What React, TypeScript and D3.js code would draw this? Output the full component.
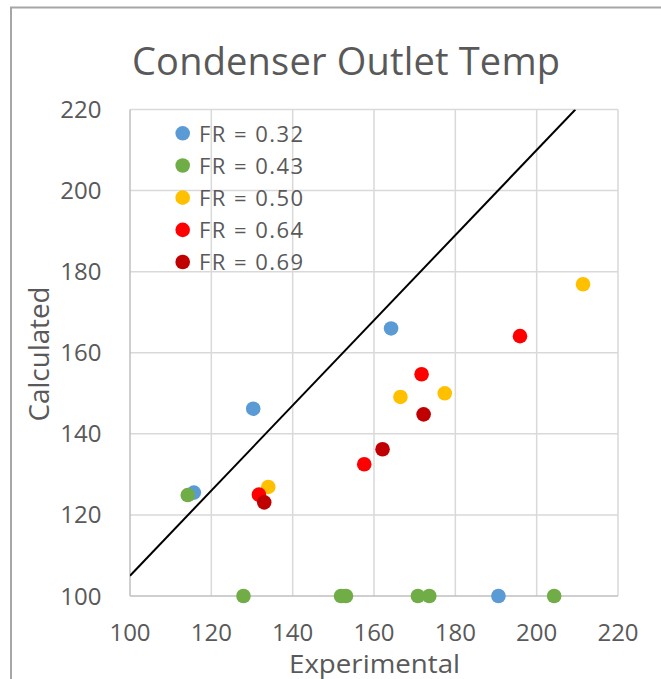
import React from "react";
import * as d3 from "d3";

// Series: experimental (x) vs calculated (y) condenser outlet temperature
const seriesNames = ["FR = 0.32", "FR = 0.43", "FR = 0.50", "FR = 0.64", "FR = 0.69"];
const seriesColors = ["#5b9bd5", "#70ad47", "#ffc000", "#ff0000", "#c00000"];

const fr032X = [164.2, 130.3, 115.7, 190.6];
const fr032Y = [166.0, 146.2, 125.5, 100];
const fr043X = [114.2, 127.9, 151.9, 153.1, 170.8, 173.6, 204.3];
const fr043Y = [124.9, 100, 100, 100, 100, 100, 100];
const fr050X = [211.4, 177.4, 166.5, 134.0];
const fr050Y = [176.9, 150.0, 149.1, 126.9];
const fr064X = [195.9, 171.7, 157.6, 131.7];
const fr064Y = [164.1, 154.7, 132.5, 125.0];
const fr069X = [172.2, 162.1, 133.0];
const fr069Y = [144.8, 136.2, 123.1];

// Reference line y = 1.05 x, clipped at the top of the plot
const refLineX = [100, 209.52];
const refLineY = [105, 220];

const xTicks = [100, 120, 140, 160, 180, 200, 220];
const yTicks = [100, 120, 140, 160, 180, 200, 220];

const seriesX = [fr032X, fr043X, fr050X, fr064X, fr069X];
const seriesY = [fr032Y, fr043Y, fr050Y, fr064Y, fr069Y];

const W = 661;
const H = 679;
const FONT = "'Open Sans', 'Noto Sans', sans-serif";
const TEXT = "#595959";

export default function App() {
  const x = d3.scaleLinear().domain([100, 220]).range([130, 618]);
  const y = d3.scaleLinear().domain([100, 220]).range([596, 109.5]);

  const line = d3
    .line<number>()
    .x((_, i) => x(refLineX[i]))
    .y((_, i) => y(refLineY[i]));

  const legendY = d3.scaleLinear().domain([0, 4]).range([133.3, 262]);

  return (
    <svg
      width={W}
      height={H}
      style={{ position: "absolute", left: 0, top: 0, background: "#fff" }}
      fontFamily={FONT}
    >
      <rect x={0} y={0} width={W} height={H} fill="#fff" />
      {/* outer chart frame */}
      <path d={`M11,${H + 2} L11,7.5 L${W + 2},7.5`} fill="none" stroke="#a6a6a6" strokeWidth={2} />

      <text
        x={(132 + 560) / 2}
        y={75}
        textAnchor="middle"
        fontSize={38}
        fill={TEXT}
        textLength={428}
        lengthAdjust="spacing"
      >
        Condenser Outlet Temp
      </text>

      <defs>
        <clipPath id="plot">
          <rect x={x(100)} y={y(220)} width={x(220) - x(100)} height={y(100) - y(220)} />
        </clipPath>
      </defs>

      {/* gridlines */}
      {xTicks.slice(1).map((t) => (
        <line key={"gx" + t} x1={x(t)} x2={x(t)} y1={y(100)} y2={y(220)} stroke="#d9d9d9" strokeWidth={1.5} />
      ))}
      {yTicks.slice(1).map((t) => (
        <line key={"gy" + t} x1={x(100)} x2={x(220)} y1={y(t)} y2={y(t)} stroke="#d9d9d9" strokeWidth={1.5} />
      ))}
      {/* axes */}
      <line x1={x(100)} x2={x(100)} y1={y(100)} y2={y(220)} stroke="#bfbfbf" strokeWidth={1.5} />
      <line x1={x(100)} x2={x(220)} y1={y(100)} y2={y(100)} stroke="#bfbfbf" strokeWidth={1.5} />

      {/* tick labels */}
      {xTicks.map((t) => (
        <text key={"tx" + t} x={x(t)} y={641} textAnchor="middle" fontSize={24} fill={TEXT}>
          {t}
        </text>
      ))}
      {yTicks.map((t) => (
        <text key={"ty" + t} x={101.5} y={y(t) + 8.5} textAnchor="end" fontSize={24} fill={TEXT}>
          {t}
        </text>
      ))}

      {/* axis titles */}
      <text x={374.5} y={673} textAnchor="middle" fontSize={25.5} fill={TEXT} textLength={171} lengthAdjust="spacingAndGlyphs">
        Experimental
      </text>
      <text
        transform={`translate(49,354) rotate(-90)`}
        textAnchor="middle"
        fontSize={27}
        fill={TEXT}
        textLength={135}
        lengthAdjust="spacingAndGlyphs"
      >
        Calculated
      </text>

      <path d={line(refLineX) || ""} fill="none" stroke="#000" strokeWidth={2} clipPath="url(#plot)" />

      {/* data markers */}
      {seriesX.map((xs, s) =>
        xs.map((v, i) => (
          <circle key={`p${s}-${i}`} cx={x(v)} cy={y(seriesY[s][i])} r={7.3} fill={seriesColors[s]} />
        ))
      )}

      {/* legend */}
      {seriesNames.map((name, i) => (
        <g key={name}>
          <circle cx={182.7} cy={legendY(i)} r={7.3} fill={seriesColors[i]} />
          <text x={199} y={legendY(i) + 8.4} fontSize={22} fill={TEXT} textLength={104} lengthAdjust="spacing">
            {name}
          </text>
        </g>
      ))}
    </svg>
  );
}
